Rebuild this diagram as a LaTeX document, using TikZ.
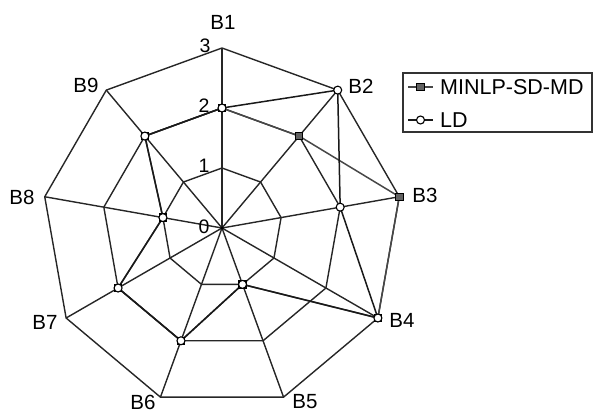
\documentclass[tikz,border=0pt]{standalone}
\usepackage{fontspec}
\setmainfont{Liberation Sans}
\begin{document}
\begin{tikzpicture}[x=1pt,y=-1pt,
  grid/.style={line width=1.4pt, black!85, line join=round},
  series/.style={line width=1.5pt, black!90, line join=round},
  mseries/.style={line width=1.5pt, black!72, line join=round},
  msq/.style={rectangle, draw=black, fill=black!62, line width=0.8pt, minimum size=7.5pt, inner sep=0pt},
  lcirc/.style={circle, draw=black, fill=white, line width=1.1pt, minimum size=8pt, inner sep=0pt},
  axlab/.style={inner sep=0pt, font=\fontsize{20.5}{24}\selectfont},
  ticklab/.style={inner sep=0pt, font=\fontsize{19.5}{22}\selectfont},
  leglab/.style={inner sep=0pt, anchor=west, font=\fontsize{21.5}{25}\selectfont}]
\useasboundingbox (0,0) rectangle (593,412);
\coordinate (O) at (222,228);
\foreach \k in {1,...,9}{
  \pgfmathsetmacro\a{90-40*(\k-1)}
  \foreach \r in {1,2,3}{
    \coordinate (V\k-\r) at ({222+60*\r*cos(\a)},{228-60*\r*sin(\a)});
  }
}
% rings
\foreach \r in {1,2,3}{
  \draw[grid] (V1-\r) -- (V2-\r) -- (V3-\r) -- (V4-\r) -- (V5-\r) -- (V6-\r) -- (V7-\r) -- (V8-\r) -- (V9-\r) -- cycle;
}
% spokes
\foreach \k in {1,...,9}{ \draw[grid] (O) -- (V\k-3); }
% series points
\foreach \k/\v in {1/2,2/2,3/3,4/3,5/1,6/2,7/2,8/1,9/2}{ \coordinate (M\k) at (V\k-\v); }
\foreach \k/\v in {1/2,2/3,3/2,4/3,5/1,6/2,7/2,8/1,9/2}{ \coordinate (L\k) at (V\k-\v); }
\draw[mseries] (M1) -- (M2) -- (M3) -- (M4) -- (M5) -- (M6) -- (M7) -- (M8) -- (M9) -- cycle;
\draw[series] (L1) -- (L2) -- (L3) -- (L4) -- (L5) -- (L6) -- (L7) -- (L8) -- (L9) -- cycle;
\foreach \k in {1,...,9}{ \node[msq] (m\k) at (M\k) {}; }
\foreach \k in {1,...,9}{ \node[lcirc] (l\k) at (L\k) {}; }
\node[circle, fill=black, inner sep=0pt, minimum size=3.5pt] (ctr) at (O) {};
% tick labels
\node[ticklab] (t0) at (204,227) {0};
\node[ticklab] (t1) at (204,166) {1};
\node[ticklab] (t2) at (204,106) {2};
\node[ticklab] (t3) at (205,46) {3};
% axis labels
\node[axlab] (b1) at (223,22) {B1};
\node[axlab] (b2) at (361,86) {B2};
\node[axlab] (b3) at (425,195) {B3};
\node[axlab] (b4) at (402,320) {B4};
\node[axlab] (b5) at (305,402) {B5};
\node[axlab] (b6) at (143,402) {B6};
\node[axlab] (b7) at (45,322) {B7};
\node[axlab] (b8) at (22,197) {B8};
\node[axlab] (b9) at (86,85) {B9};
% legend
\draw[line width=1.4pt, black!80] (403,73) rectangle (592,132);
\coordinate (la1) at (408,87); \coordinate (lb1) at (433,87);
\coordinate (la2) at (408,120); \coordinate (lb2) at (433,120);
\draw[mseries] (la1) -- (lb1);
\draw[series] (la2) -- (lb2);
\node[msq] (lm) at (420.5,87) {};
\node[lcirc] (ll) at (420.5,120) {};
\node[leglab] (lt1) at (440,87) {MINLP-SD-MD};
\node[leglab] (lt2) at (440,120) {LD};
\end{tikzpicture}
\end{document}
